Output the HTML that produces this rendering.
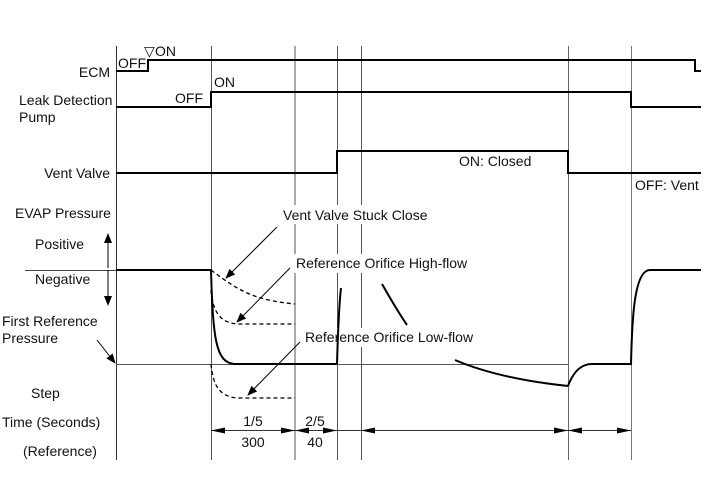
<!DOCTYPE html>
<html><head><meta charset="utf-8"><style>
body{margin:0;background:#fff}
svg{display:block}
text{font-family:"Liberation Sans",Arial,sans-serif;font-size:14px;fill:#111}
</style></head><body>
<svg width="711" height="479" viewBox="0 0 711 479" xmlns="http://www.w3.org/2000/svg">
<defs>
<marker id="ah" markerWidth="10" markerHeight="8" refX="9" refY="4" orient="auto" markerUnits="userSpaceOnUse"><path d="M0,0 L10,4 L0,8 Z" fill="#000"/></marker>
</defs>
<g stroke-width="1">
<line x1="116.5" y1="46" x2="116.5" y2="460" stroke="#333"/>
<line x1="211.5" y1="46" x2="211.5" y2="460" stroke="#555"/>
<line x1="295" y1="46" x2="295" y2="460" stroke="#aaa" stroke-width="2"/>
<line x1="337.5" y1="46" x2="337.5" y2="460" stroke="#555"/>
<line x1="361.5" y1="46" x2="361.5" y2="460" stroke="#555"/>
<line x1="568.5" y1="46" x2="568.5" y2="460" stroke="#666"/>
<line x1="631.5" y1="46" x2="631.5" y2="460" stroke="#777"/>
</g>
<line x1="25" y1="270.5" x2="211" y2="270.5" stroke="#444"/>
<line x1="116" y1="364.5" x2="568" y2="364.5" stroke="#555"/>
<rect x="281" y="205" width="150" height="19" fill="#fff"/>
<rect x="292" y="254" width="176" height="19" fill="#fff"/>
<rect x="302" y="328" width="164" height="19" fill="#fff"/>
<g fill="none" stroke="#000" stroke-width="2">
<path d="M116,71 H148 V60 H695 V71 H701"/>
<path d="M116,107 H211 V92 H631 V107 H701"/>
<path d="M116,173 H337 V151 H568 V173 H701"/>
<path d="M116,270 H211 C213,340 216,362 234,364 H337"/>
<path d="M337,364 C338,330 339,305 341,288"/>
<path d="M382,284 C390,298 398,312 407,325"/>
<path d="M455,360 C490,375 530,382 568,386"/>
<path d="M568,386 C574,370 582,364 592,364 H631 C632,320 634,270 650,270 H701"/>
</g>
<g fill="none" stroke="#000" stroke-width="1.3" stroke-dasharray="4,3">
<path d="M211,270 C240,292 255,300 295,304"/>
<path d="M211,290 C213,312 220,324 240,324 H295"/>
<path d="M211,364 C213,386 220,398 240,398 H295"/>
</g>
<g stroke="#000" stroke-width="1" marker-end="url(#ah)">
<line x1="277" y1="227" x2="226" y2="278"/>
<line x1="290" y1="268" x2="237" y2="322"/>
<line x1="300" y1="342" x2="248" y2="395"/>
<line x1="97" y1="340" x2="115" y2="363"/>
<line x1="108" y1="268" x2="108" y2="234"/>
<line x1="108" y1="270" x2="108" y2="305"/>
</g>
<line x1="211" y1="430.5" x2="631" y2="430.5" stroke="#333"/>
<g fill="#000">
<path d="M211,430.5 l14,-3 v6 z"/>
<path d="M295,430.5 l-14,-3 v6 z"/>
<path d="M295,430.5 l14,-3 v6 z"/>
<path d="M337,430.5 l-14,-3 v6 z"/>
<path d="M361,430.5 l14,-3 v6 z"/>
<path d="M568,430.5 l-14,-3 v6 z"/>
<path d="M568,430.5 l14,-3 v6 z"/>
<path d="M631,430.5 l-14,-3 v6 z"/>
</g>
<text x="110" y="77" text-anchor="end">ECM</text>
<text x="118" y="68">OFF</text>
<text x="144" y="56" font-size="11">▽</text>
<text x="155" y="56">ON</text>
<text x="214" y="87">ON</text>
<text x="175" y="103">OFF</text>
<text x="19" y="105">Leak Detection</text>
<text x="19" y="122">Pump</text>
<text x="110" y="178" text-anchor="end">Vent Valve</text>
<text x="459" y="166">ON: Closed</text>
<text x="635" y="190">OFF: Vent</text>
<text x="15" y="218">EVAP Pressure</text>
<text x="35" y="249">Positive</text>
<text x="35" y="284">Negative</text>
<text x="2" y="326">First Reference</text>
<text x="2" y="343">Pressure</text>
<text x="31" y="398">Step</text>
<text x="2" y="427">Time (Seconds)</text>
<text x="23" y="456">(Reference)</text>
<text x="283" y="220">Vent Valve Stuck Close</text>
<text x="296" y="268">Reference Orifice High-flow</text>
<text x="305" y="342">Reference Orifice Low-flow</text>
<text x="253" y="426" text-anchor="middle">1/5</text>
<text x="253" y="447" text-anchor="middle">300</text>
<text x="315" y="426" text-anchor="middle">2/5</text>
<text x="315" y="447" text-anchor="middle">40</text>
</svg>
</body></html>
